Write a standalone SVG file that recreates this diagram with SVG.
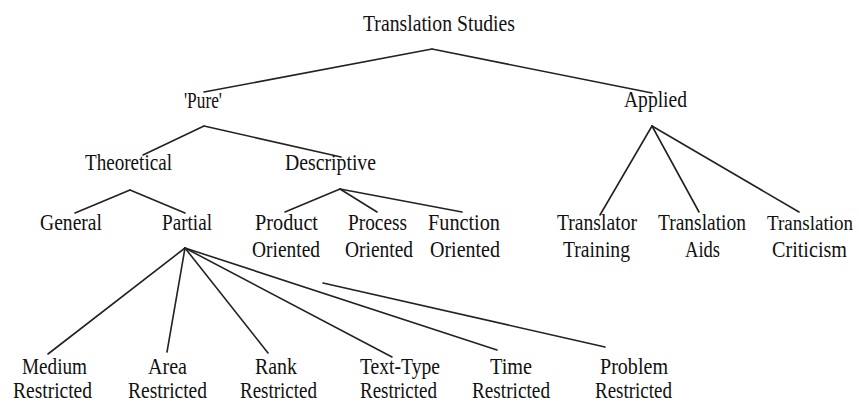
<svg xmlns="http://www.w3.org/2000/svg" width="859" height="403" viewBox="0 0 859 403">
<style>
  text { font-family: "Liberation Serif", "Times New Roman", serif; font-size: 23px; fill: #111; text-anchor: middle; }
  .edge { stroke: #222; stroke-width: 1.6; fill: none; stroke-linecap: round; }
</style>
<rect width="859" height="403" fill="#fff"/>
<g id="connectors">
  <line class="edge" x1="432" y1="49" x2="204" y2="92"/>
  <line class="edge" x1="432" y1="49" x2="652" y2="93"/>
  <line class="edge" x1="204" y1="126" x2="143" y2="155"/>
  <line class="edge" x1="204" y1="126" x2="341" y2="157"/>
  <line class="edge" x1="130" y1="190" x2="75" y2="213"/>
  <line class="edge" x1="130" y1="190" x2="185" y2="213"/>
  <line class="edge" x1="340" y1="189" x2="285" y2="212"/>
  <line class="edge" x1="340" y1="189" x2="377" y2="212"/>
  <line class="edge" x1="340" y1="189" x2="462" y2="212"/>
  <line class="edge" x1="652" y1="126" x2="600" y2="215"/>
  <line class="edge" x1="652" y1="126" x2="699" y2="212"/>
  <line class="edge" x1="652" y1="126" x2="799" y2="212"/>
  <line class="edge" x1="185" y1="248" x2="48" y2="354"/>
  <line class="edge" x1="185" y1="248" x2="167" y2="352"/>
  <line class="edge" x1="185" y1="248" x2="268" y2="353"/>
  <line class="edge" x1="185" y1="248" x2="392" y2="357"/>
  <line class="edge" x1="185" y1="248" x2="497" y2="350"/>
  <line class="edge" x1="323" y1="283" x2="605" y2="347"/>
</g>
<g id="root"><text x="439" y="31" textLength="152" lengthAdjust="spacingAndGlyphs">Translation Studies</text></g>
<g id="pure"><text x="203" y="108" textLength="38" lengthAdjust="spacingAndGlyphs">'Pure'</text></g>
<g id="applied"><text x="655.5" y="107" textLength="63" lengthAdjust="spacingAndGlyphs">Applied</text></g>
<g id="theoretical"><text x="128.5" y="170" textLength="87" lengthAdjust="spacingAndGlyphs">Theoretical</text></g>
<g id="descriptive"><text x="330.5" y="170" textLength="91" lengthAdjust="spacingAndGlyphs">Descriptive</text></g>
<g id="general"><text x="71" y="230" textLength="62" lengthAdjust="spacingAndGlyphs">General</text></g>
<g id="partial"><text x="187" y="230" textLength="50" lengthAdjust="spacingAndGlyphs">Partial</text></g>
<g id="product">
  <text x="286.5" y="230" textLength="63" lengthAdjust="spacingAndGlyphs">Product</text>
  <text x="286" y="257" textLength="68" lengthAdjust="spacingAndGlyphs">Oriented</text>
</g>
<g id="process">
  <text x="377.5" y="230" textLength="59" lengthAdjust="spacingAndGlyphs">Process</text>
  <text x="379" y="257" textLength="68" lengthAdjust="spacingAndGlyphs">Oriented</text>
</g>
<g id="function">
  <text x="464" y="230" textLength="72" lengthAdjust="spacingAndGlyphs">Function</text>
  <text x="465" y="257" textLength="70" lengthAdjust="spacingAndGlyphs">Oriented</text>
</g>
<g id="translator-training">
  <text x="597" y="230" textLength="80" lengthAdjust="spacingAndGlyphs">Translator</text>
  <text x="596.5" y="257" textLength="67" lengthAdjust="spacingAndGlyphs">Training</text>
</g>
<g id="translation-aids">
  <text x="702" y="230" textLength="88" lengthAdjust="spacingAndGlyphs">Translation</text>
  <text x="702.5" y="257" textLength="35" lengthAdjust="spacingAndGlyphs">Aids</text>
</g>
<g id="translation-criticism">
  <text x="810" y="230" textLength="86" lengthAdjust="spacingAndGlyphs" style="font-size:20px">Translation</text>
  <text x="809.5" y="257" textLength="75" lengthAdjust="spacingAndGlyphs">Criticism</text>
</g>
<g id="medium">
  <text x="54.5" y="374" textLength="65" lengthAdjust="spacingAndGlyphs">Medium</text>
  <text x="52.5" y="398" textLength="79" lengthAdjust="spacingAndGlyphs">Restricted</text>
</g>
<g id="area">
  <text x="167.5" y="374" textLength="39" lengthAdjust="spacingAndGlyphs">Area</text>
  <text x="167.5" y="398" textLength="79" lengthAdjust="spacingAndGlyphs">Restricted</text>
</g>
<g id="rank">
  <text x="276" y="374" textLength="42" lengthAdjust="spacingAndGlyphs">Rank</text>
  <text x="278.5" y="398" textLength="77" lengthAdjust="spacingAndGlyphs">Restricted</text>
</g>
<g id="text-type">
  <text x="400" y="374" textLength="80" lengthAdjust="spacingAndGlyphs">Text-Type</text>
  <text x="398.5" y="398" textLength="77" lengthAdjust="spacingAndGlyphs">Restricted</text>
</g>
<g id="time">
  <text x="511" y="374" textLength="42" lengthAdjust="spacingAndGlyphs">Time</text>
  <text x="511" y="398" textLength="78" lengthAdjust="spacingAndGlyphs">Restricted</text>
</g>
<g id="problem">
  <text x="634" y="374" textLength="68" lengthAdjust="spacingAndGlyphs">Problem</text>
  <text x="633.5" y="398" textLength="77" lengthAdjust="spacingAndGlyphs">Restricted</text>
</g>
</svg>
